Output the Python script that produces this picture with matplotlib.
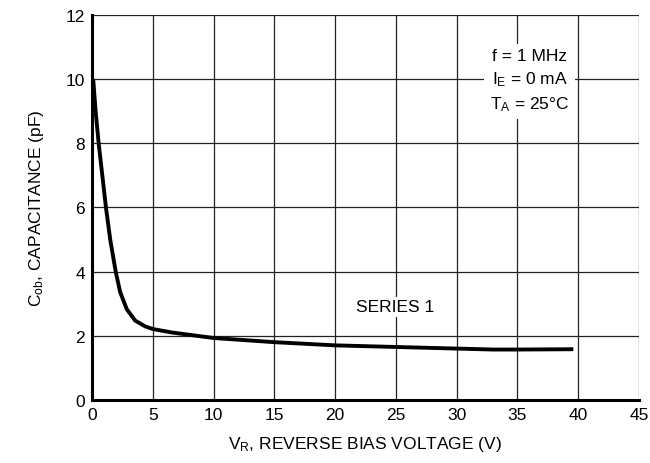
import matplotlib
matplotlib.use("Agg")
import matplotlib.pyplot as plt

# Capacitance curve
voltage = [0.1, 0.3, 0.55, 1.15, 1.5, 1.95, 2.32, 2.86, 3.56, 4.39, 5, 6.6, 8, 10,
           15, 20, 25, 30, 33, 35, 39.6]
capacitance = [10.0, 9.0, 8.0, 6.0, 5.0, 4.0, 3.36, 2.83, 2.47, 2.29, 2.21, 2.1, 2.03, 1.93,
               1.8, 1.7, 1.65, 1.6, 1.57, 1.57, 1.58]

x_ticks = list(range(0, 50, 5))
y_ticks = list(range(0, 14, 2))

plt.rcParams["font.family"] = ["Liberation Sans", "DejaVu Sans"]
plt.rcParams["mathtext.default"] = "regular"

FS = 12.5

fig = plt.figure(figsize=(6.5, 4.64), dpi=100)
ax = fig.add_axes([0.1415, 0.136, 0.8415, 0.8295])

ax.plot(voltage, capacitance, color="black", linewidth=2.8, solid_capstyle="butt",
        solid_joinstyle="round", zorder=3)

ax.set_xlim(0, 45)
ax.set_ylim(0, 12)
ax.set_xticks(x_ticks)
ax.set_yticks(y_ticks)
ax.tick_params(length=0, labelsize=FS, pad=5)
ax.grid(True, color="#222222", linewidth=0.9)
ax.set_axisbelow(True)

for side in ("top", "right"):
    ax.spines[side].set_visible(False)
for side in ("left", "bottom"):
    ax.spines[side].set_linewidth(2.2)

ax.set_xlabel("V$_R$, REVERSE BIAS VOLTAGE (V)", fontsize=FS, labelpad=9)
ax.set_ylabel("C$_{ob}$, CAPACITANCE (pF)", fontsize=FS, labelpad=14)

ax.text(36, 9.95, "f = 1 MHz\nI$_E$ = 0 mA\nT$_A$ = 25°C", ha="center", va="center",
        fontsize=FS, linespacing=1.45,
        bbox={"facecolor": "white", "edgecolor": "none", "pad": 4}, zorder=4)
ax.text(24.9, 2.9, "SERIES 1", ha="center", va="center", fontsize=FS,
        bbox={"facecolor": "white", "edgecolor": "none", "pad": 2}, zorder=4)

fig.savefig("out.png", dpi=100)
